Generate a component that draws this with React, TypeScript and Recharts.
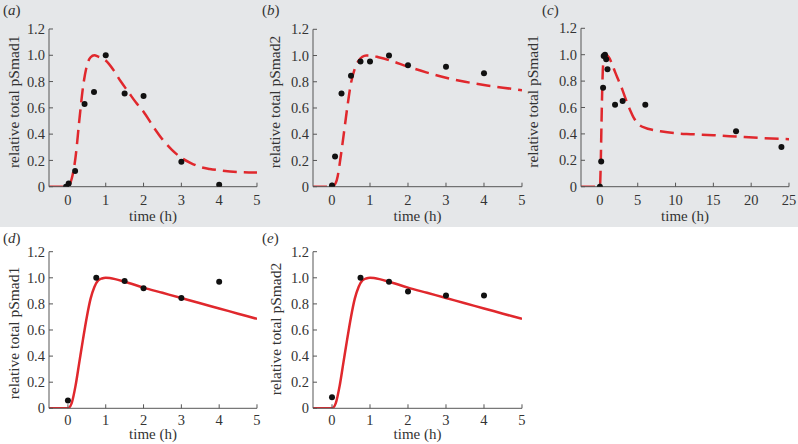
import React from 'react';
import { ComposedChart, Line, Scatter, XAxis, YAxis } from 'recharts';

const Y_TICKS = [0, 0.2, 0.4, 0.6, 0.8, 1.0, 1.2];
const HOUR_TICKS = [0, 1, 2, 3, 4, 5];
const LONG_TICKS = [0, 5, 10, 15, 20, 25];

// (a) pSmad1, 0-4 h
const aObsT = [-0.05, 0.02, 0.19, 0.44, 0.69, 1, 1.5, 2, 3, 4];
const aObsY = [0, 0.025, 0.12, 0.63, 0.72, 1.0, 0.71, 0.69, 0.19, 0.015];
const aFitT = [-0.5, 0, 0.1, 0.2, 0.3, 0.4, 0.5, 0.6, 0.7, 0.8, 1.0, 1.2, 1.4, 1.6, 1.8, 2.0, 2.25, 2.5, 2.75, 3.0, 3.25, 3.5, 3.75, 4.0, 4.5, 5.0];
const aFitY = [0, 0, 0.06, 0.22, 0.5, 0.76, 0.92, 0.985, 1.0, 0.99, 0.96, 0.89, 0.8, 0.72, 0.64, 0.57, 0.46, 0.36, 0.28, 0.22, 0.18, 0.15, 0.135, 0.125, 0.112, 0.108];

// (b) pSmad2, 0-4 h
const bObsT = [0, 0.08, 0.25, 0.5, 0.75, 1, 1.5, 2, 3, 4];
const bObsY = [0.01, 0.23, 0.71, 0.845, 0.955, 0.955, 1.0, 0.925, 0.915, 0.865];
const bFitT = [-0.5, 0, 0.1, 0.15, 0.2, 0.3, 0.4, 0.5, 0.6, 0.7, 0.8, 0.9, 1.0, 1.25, 1.5, 2.0, 2.5, 3.0, 3.5, 4.0, 4.5, 5.0];
const bFitY = [0, 0, 0.03, 0.08, 0.17, 0.38, 0.6, 0.79, 0.9, 0.96, 0.99, 1.0, 1.0, 0.985, 0.965, 0.915, 0.87, 0.83, 0.8, 0.775, 0.755, 0.735];

// (c) pSmad1, 0-24 h
const cObsT = [0, 0.17, 0.42, 0.5, 0.67, 0.83, 1, 2, 3, 6, 18, 24];
const cObsY = [0, 0.19, 0.75, 0.99, 1.0, 0.965, 0.89, 0.62, 0.65, 0.62, 0.42, 0.3];
const cFitT = [-2.5, 0, 0.1, 0.2, 0.3, 0.4, 0.6, 0.8, 1.2, 1.6, 2, 2.5, 3, 3.5, 4, 4.5, 5, 6, 7, 8, 10, 12, 15, 18, 21, 25];
const cFitY = [0, 0, 0.15, 0.45, 0.72, 0.9, 0.99, 1.0, 0.98, 0.93, 0.87, 0.8, 0.73, 0.65, 0.58, 0.52, 0.48, 0.445, 0.43, 0.42, 0.405, 0.398, 0.39, 0.38, 0.37, 0.36];

// (d) pSmad1, refit
const dObsT = [0, 0.75, 1.5, 2, 3, 4];
const dObsY = [0.06, 1.0, 0.975, 0.92, 0.845, 0.97];
const dFitT = [-0.5, 0, 0.1, 0.2, 0.3, 0.4, 0.5, 0.6, 0.7, 0.8, 0.9, 1.0, 1.25, 1.5, 2.0, 2.5, 3.0, 3.5, 4.0, 4.5, 5.0];
const dFitY = [0, 0, 0.04, 0.17, 0.35, 0.53, 0.7, 0.84, 0.93, 0.98, 0.995, 1.0, 0.99, 0.97, 0.925, 0.885, 0.845, 0.805, 0.765, 0.725, 0.685];

// (e) pSmad2, refit
const eObsT = [0, 0.75, 1.5, 2, 3, 4];
const eObsY = [0.085, 1.0, 0.97, 0.895, 0.865, 0.865];
const eFitT = [-0.5, 0, 0.1, 0.2, 0.3, 0.4, 0.5, 0.6, 0.7, 0.8, 0.9, 1.0, 1.25, 1.5, 2.0, 2.5, 3.0, 3.5, 4.0, 4.5, 5.0];
const eFitY = [0, 0, 0.04, 0.17, 0.35, 0.53, 0.7, 0.84, 0.93, 0.98, 0.995, 1.0, 0.99, 0.97, 0.925, 0.885, 0.845, 0.805, 0.765, 0.725, 0.685];

const zip = (xs: number[], ys: number[]) => xs.map((x, i) => ({ x, y: ys[i] }));

const SERIF = '"Liberation Serif", "Times New Roman", serif';
const RED = '#e0282d';
const INK = '#333';

const Dot = (p: any) => <circle cx={p.cx} cy={p.cy} r={3} fill="#111" />;

type PanelProps = {
  left: number;
  top: number;
  plot: [number, number, number, number]; // left, right, top, bottom in page px
  xDomain: [number, number];
  xTicks: number[];
  yLabel: string;
  obs: { x: number; y: number }[];
  fit: { x: number; y: number }[];
  dashed?: boolean;
  tickGap: number; // x tick label distance
  labelBase: number; // x title baseline below the axis
  titleShift: number; // y title vertical nudge
};

const Panel = ({ left, top, plot, xDomain, xTicks, yLabel, obs, fit, dashed, tickGap, labelBase, titleShift }: PanelProps) => {
  const [pl, pr, pt, pb] = plot;
  const axisH = 40;
  const width = pr - left + 8;
  const height = pb - top + axisH + 4;
  return (
    <div style={{ position: 'absolute', left, top, width, height }}>
      <ComposedChart width={width} height={height} margin={{ top: pt - top, right: 8, bottom: 4, left: 0 }}>
        <XAxis
          dataKey="x"
          type="number"
          domain={xDomain}
          ticks={xTicks}
          allowDataOverflow
          height={axisH}
          tickSize={-4}
          tickMargin={tickGap}
          stroke="#555"
          tick={{ fill: INK, fontSize: 14.5, fontFamily: SERIF }}
          label={{ value: 'time (h)', position: 'insideBottom', offset: axisH - labelBase, fill: INK, fontSize: 15, fontFamily: SERIF }}
        />
        <YAxis
          dataKey="y"
          type="number"
          domain={[0, 1.2]}
          ticks={Y_TICKS}
          allowDataOverflow
          width={pl - left}
          tickSize={-4}
          tickMargin={8}
          stroke="#555"
          tickFormatter={(v: number) => (v === 0 ? '0' : v.toFixed(1))}
          tick={{ fill: INK, fontSize: 14.5, fontFamily: SERIF }}
          label={{
            value: yLabel,
            angle: -90,
            position: 'insideLeft',
            offset: 13,
            dy: titleShift,
            fill: INK,
            fontSize: 15.5,
            fontFamily: SERIF,
            style: { textAnchor: 'middle' },
          }}
        />
        <Line
          data={fit}
          dataKey="y"
          type="monotone"
          stroke={RED}
          strokeWidth={2.5}
          strokeDasharray={dashed ? '14 7' : undefined}
          dot={false}
          activeDot={false}
          isAnimationActive={false}
        />
        <Scatter data={obs} dataKey="y" shape={Dot} isAnimationActive={false} />
      </ComposedChart>
    </div>
  );
};

const Tag = ({ letter, x, y }: { letter: string; x: number; y: number }) => (
  <div style={{ position: 'absolute', left: x, top: y, fontFamily: SERIF, fontSize: 15, color: INK, lineHeight: '16px' }}>
    (<i>{letter}</i>)
  </div>
);

export default function App() {
  return (
    <div style={{ position: 'absolute', left: 0, top: 0, width: 798, height: 444, background: '#fff', overflow: 'hidden' }}>
      <div style={{ position: 'absolute', left: 0, top: 0, width: 798, height: 227, background: '#e5e7e9' }} />
      <Panel left={0} top={0} plot={[49, 257, 29, 186.7]} xDomain={[-0.5, 5]} xTicks={HOUR_TICKS}
        yLabel="relative total pSmad1" obs={zip(aObsT, aObsY)} fit={zip(aFitT, aFitY)} dashed
        tickGap={12} labelBase={34} titleShift={-6} />
      <Panel left={262} top={0} plot={[313, 522, 29.3, 186.7]} xDomain={[-0.5, 5]} xTicks={HOUR_TICKS}
        yLabel="relative total pSmad2" obs={zip(bObsT, bObsY)} fit={zip(bFitT, bFitY)} dashed
        tickGap={12} labelBase={34} titleShift={-6} />
      <Panel left={520} top={0} plot={[581, 789, 28.3, 186.7]} xDomain={[-2.5, 25]} xTicks={LONG_TICKS}
        yLabel="relative total pSmad1" obs={zip(cObsT, cObsY)} fit={zip(cFitT, cFitY)} dashed
        tickGap={12} labelBase={34} titleShift={-6} />
      <Panel left={0} top={227} plot={[49, 257, 251.7, 408.3]} xDomain={[-0.5, 5]} xTicks={HOUR_TICKS}
        yLabel="relative total pSmad1" obs={zip(dObsT, dObsY)} fit={zip(dFitT, dFitY)}
        tickGap={10} labelBase={31} titleShift={3} />
      <Panel left={262} top={227} plot={[313, 522, 251.7, 408.3]} xDomain={[-0.5, 5]} xTicks={HOUR_TICKS}
        yLabel="relative total pSmad2" obs={zip(eObsT, eObsY)} fit={zip(eFitT, eFitY)}
        tickGap={10} labelBase={31} titleShift={-1} />
      <div style={{ position: 'absolute', left: 0, top: 0 }}>
        <Tag letter="a" x={3} y={2} />
        <Tag letter="b" x={262} y={2} />
        <Tag letter="c" x={542} y={2} />
        <Tag letter="d" x={3} y={230} />
        <Tag letter="e" x={262} y={230} />
      </div>
    </div>
  );
}
